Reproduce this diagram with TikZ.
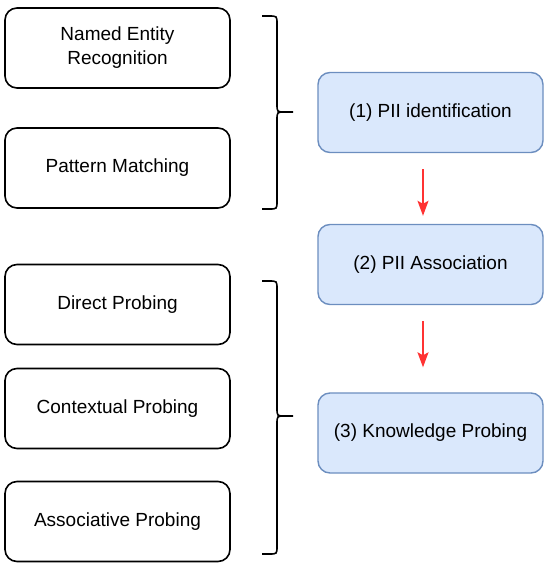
\documentclass[tikz,border=0pt]{standalone}
\usepackage{fontspec}
\setmainfont{Liberation Sans}
\usetikzlibrary{arrows.meta}
\definecolor{bfill}{HTML}{DAE8FC}
\definecolor{bline}{HTML}{6C8EBF}
\definecolor{ared}{HTML}{FF3333}
\begin{document}
\begin{tikzpicture}[x=1pt,y=-1pt,
  lbox/.style={draw=black,line width=1.6pt,rounded corners=12pt,minimum width=225pt,minimum height=80pt,inner sep=0pt,align=center,font=\fontsize{19}{24}\selectfont},
  rbox/.style={draw=bline,fill=bfill,line width=1.4pt,rounded corners=12pt,minimum width=225pt,minimum height=80pt,inner sep=0pt,align=center,font=\fontsize{19}{24}\selectfont},
  redarrow/.style={draw=ared,line width=1.6pt,-{Stealth[length=15pt,width=11pt,inset=3pt]}},
  bracepath/.style={draw=black,line width=1.6pt}]
\useasboundingbox (0,0) rectangle (550,568);
\node[lbox] (ner) at (117.5,48) {Named Entity\\Recognition};
\node[lbox] (pm) at (117.5,168) {Pattern Matching};
\node[lbox] (dp) at (117.5,304.5) {Direct Probing};
\node[lbox] (cp) at (117.5,408.5) {Contextual Probing};
\node[lbox] (ap) at (117.5,521.5) {Associative Probing};
\node[rbox] (p1) at (430.5,112.5) {(1) PII identification};
\node[rbox] (p2) at (430.5,264.5) {(2) PII Association};
\node[rbox] (p3) at (430.5,433) {(3) Knowledge Probing};
\draw[redarrow,shorten <=16pt,shorten >=8pt] ([xshift=-7.5pt]p1.south) -- ([xshift=-7.5pt]p2.north);
\draw[redarrow,shorten <=16pt,shorten >=25pt] ([xshift=-7.5pt]p2.south) -- ([xshift=-7.5pt]p3.north);
\draw[bracepath] (262,16) -- (269,16) .. controls (277,16) .. (277,24) -- (277,104) .. controls (277,112) .. (285,112) -- (293,112)
  (285,112) .. controls (277,112) .. (277,120) -- (277,201) .. controls (277,209) .. (269,209) -- (262,209);
\draw[bracepath] (262,281) -- (269,281) .. controls (277,281) .. (277,289) -- (277,408) .. controls (277,416) .. (285,416) -- (293,416)
  (285,416) .. controls (277,416) .. (277,424) -- (277,546) .. controls (277,554) .. (269,554) -- (262,554);
\end{tikzpicture}
\end{document}
